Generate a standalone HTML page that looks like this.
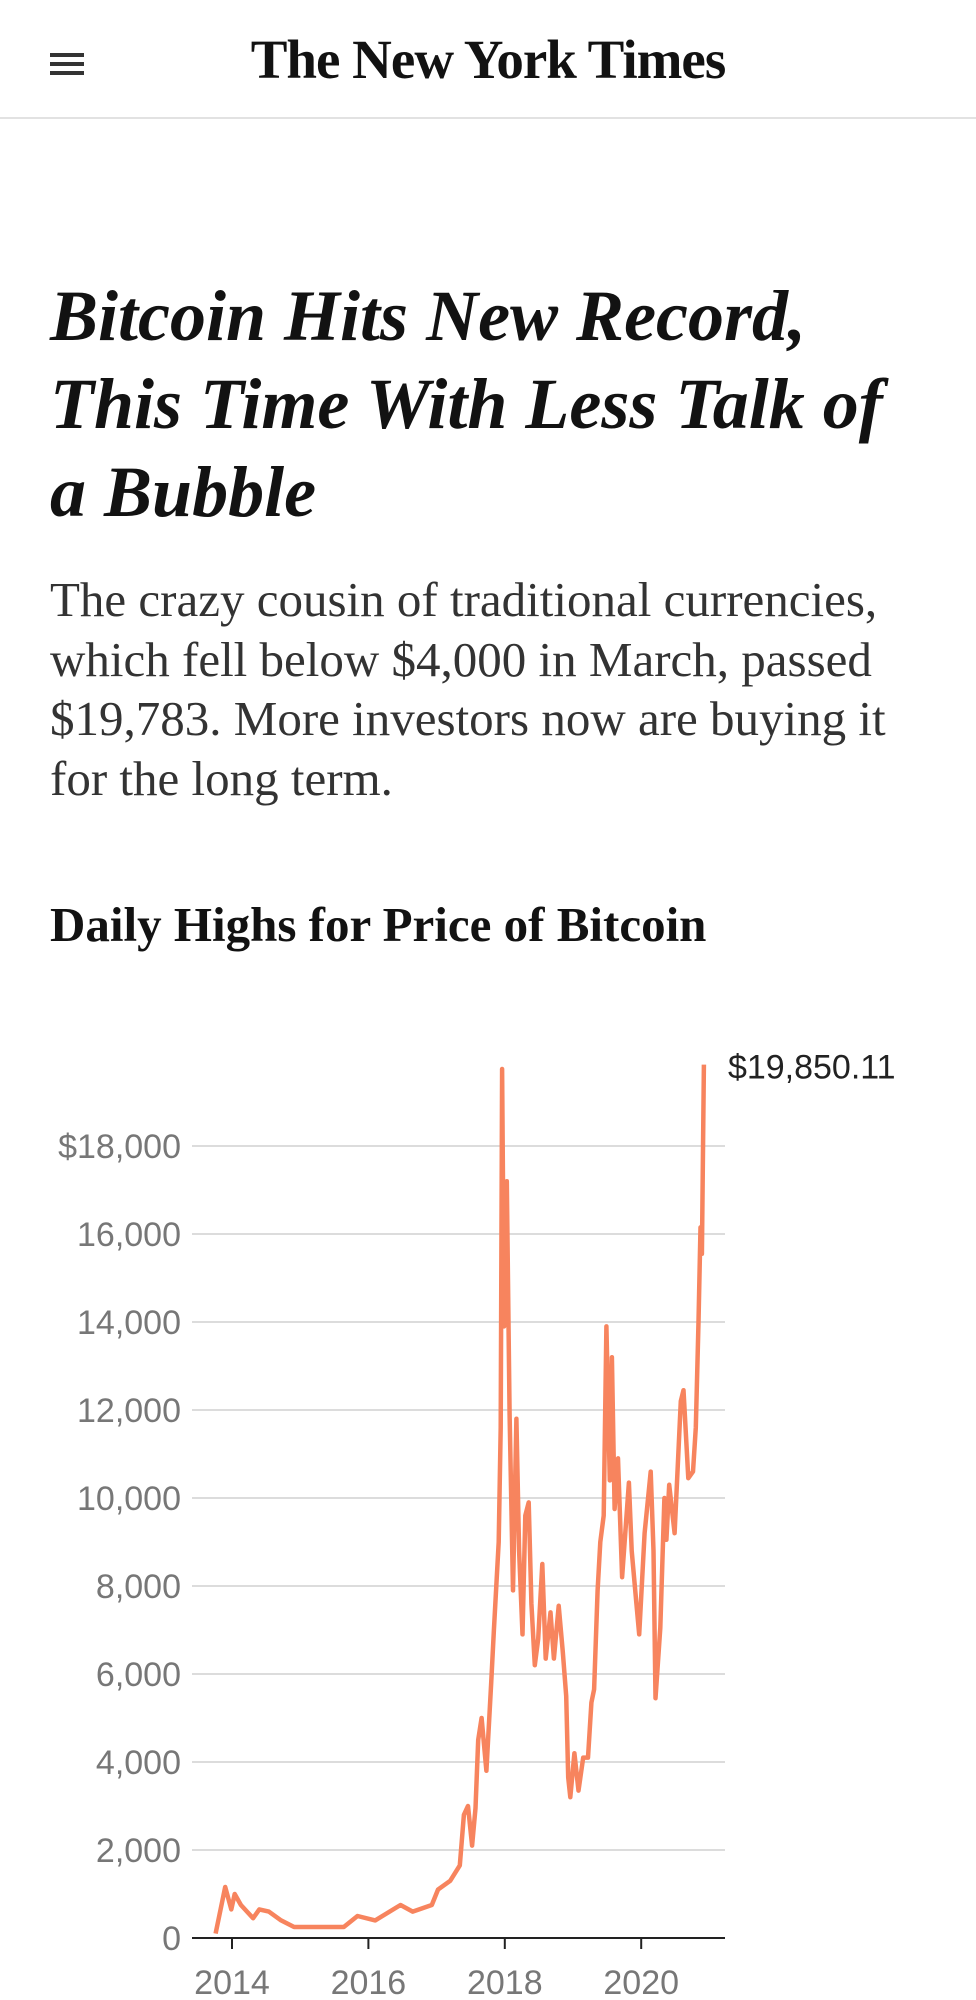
<!DOCTYPE html>
<html><head><meta charset="utf-8">
<style>
html,body{margin:0;padding:0;background:#fff;width:976px;height:2000px;overflow:hidden}
body{position:relative;font-family:"Liberation Serif",serif;color:#121212}
.abs{position:absolute}
#hdr{left:0;top:0;width:976px;height:117px;border-bottom:2px solid #e2e2e2}
#menu{left:50px;top:53px;width:34px;height:22px}
#menu span{position:absolute;left:0;width:34px;height:4px;background:#333}
#logo{left:0;width:976px;top:28px;text-align:center;font-size:55px;font-weight:bold;letter-spacing:-1px}
#headline{left:50px;top:272px;width:920px;font-size:72px;font-weight:bold;font-style:italic;line-height:88px;margin:0;white-space:nowrap}
#summary{left:50px;top:570px;width:920px;font-size:49px;line-height:59.5px;color:#333;margin:0;white-space:nowrap}
#ctitle{left:50px;top:896px;font-size:49px;font-weight:bold;margin:0;white-space:nowrap}
</style></head><body>
<div id="hdr" class="abs">
  <div id="menu" class="abs"><span style="top:0"></span><span style="top:9px"></span><span style="top:18px"></span></div>
  <div id="logo" class="abs">The New York Times</div>
</div>
<h1 id="headline" class="abs">Bitcoin Hits New Record,<br>This Time With Less Talk of<br>a Bubble</h1>
<p id="summary" class="abs">The crazy cousin of traditional currencies,<br>which fell below $4,000 in March, passed<br>$19,783. More investors now are buying it<br>for the long term.</p>
<h2 id="ctitle" class="abs">Daily Highs for Price of Bitcoin</h2>
<svg id="chart" class="abs" style="left:0;top:1040px" width="976" height="960"></svg>
<script>
const dates=[2013.76,2013.90,2013.99,2014.04,2014.13,2014.22,2014.31,2014.40,2014.54,2014.72,2014.91,2015.09,2015.37,2015.64,2015.84,2016.10,2016.47,2016.65,2016.93,2017.02,2017.20,2017.34,2017.40,2017.46,2017.52,2017.57,2017.61,2017.66,2017.73,2017.80,2017.84,2017.91,2017.94,2017.96,2017.99,2018.03,2018.07,2018.12,2018.17,2018.21,2018.26,2018.30,2018.35,2018.39,2018.44,2018.49,2018.55,2018.60,2018.67,2018.72,2018.79,2018.85,2018.90,2018.93,2018.96,2019.02,2019.08,2019.15,2019.22,2019.27,2019.31,2019.36,2019.40,2019.45,2019.49,2019.54,2019.57,2019.61,2019.66,2019.72,2019.82,2019.86,2019.93,2019.97,2020.05,2020.14,2020.18,2020.21,2020.28,2020.34,2020.37,2020.41,2020.49,2020.58,2020.62,2020.69,2020.76,2020.80,2020.84,2020.87,2020.89,2020.92];
const prices=[100,1160,650,1000,750,600,450,650,600,400,250,250,250,250,500,400,750,600,750,1100,1300,1650,2800,3000,2100,2950,4500,5000,3800,5800,7000,9000,11600,19750,13900,17200,11900,7900,11800,8800,6900,9600,9900,7600,6200,6800,8500,6350,7400,6350,7550,6500,5500,3650,3200,4200,3350,4100,4100,5350,5650,7900,9000,9600,13900,10400,13200,9750,10900,8200,10350,8800,7600,6900,9200,10600,8800,5450,7050,10000,9050,10300,9200,12200,12450,10450,10600,11600,14000,16150,15550,19850];
const yTicks=[0,2000,4000,6000,8000,10000,12000,14000,16000,18000];
const xTicks=[2014,2016,2018,2020];
const lastLabel="$19,850.11";
const NS="http://www.w3.org/2000/svg";
const svg=document.getElementById('chart');
const X0=192,X1=725,Y0=898,PX_PER_UNIT=88/2000;
function xs(yr){return 232+(yr-2014)*68.2;}
function ys(v){return Y0-v*PX_PER_UNIT;}
function mk(t,a){const e=document.createElementNS(NS,t);for(const k in a)e.setAttribute(k,a[k]);svg.appendChild(e);return e;}
yTicks.forEach((v,i)=>{
  if(v>0){const g=mk('line',{x1:X0,x2:X1,y1:ys(v),y2:ys(v),stroke:'#dcdcdc','stroke-width':2});
  
  }
  const t=mk('text',{x:181,y:ys(v)+12,'text-anchor':'end','font-size':34,fill:'#777','font-family':'Liberation Sans, sans-serif'});
  t.textContent=(i===yTicks.length-1?'$':'')+v.toLocaleString('en-US');
  
  
});
const base=mk('line',{x1:X0,x2:X1,y1:Y0,y2:Y0,stroke:'#222','stroke-width':2});


xTicks.forEach(yr=>{
  const tk=mk('line',{x1:xs(yr),x2:xs(yr),y1:Y0,y2:Y0+11,stroke:'#222','stroke-width':2});
  
  
  const t=mk('text',{x:xs(yr),y:Y0+56,'text-anchor':'middle','font-size':34,fill:'#777','font-family':'Liberation Sans, sans-serif'});
  t.textContent=yr;
  
  
});
const d=dates.map((yr,i)=>(i?'L':'M')+xs(yr).toFixed(1)+' '+ys(prices[i]).toFixed(1)).join(' ');
const line=mk('path',{d:d,fill:'none',stroke:'#f7845e','stroke-width':4.5,'stroke-linejoin':'round'});


const n=dates.length-1;
const lab=mk('text',{x:xs(dates[n])+24,y:ys(prices[n])+14,'font-size':34,fill:'#222','font-family':'Liberation Sans, sans-serif'});
lab.textContent=lastLabel;


</script>
</body></html>
